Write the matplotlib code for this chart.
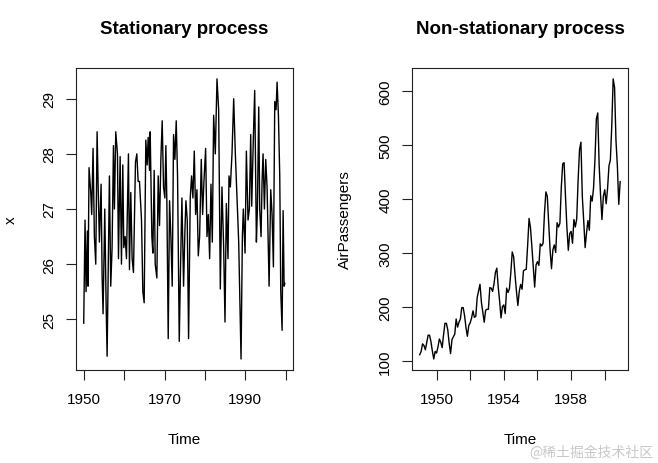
import matplotlib.pyplot as plt

plt.rcParams['font.family'] = ['Liberation Sans', 'DejaVu Sans']

# stationary series, values (time in years)
stat_time = [1950.00, 1950.33, 1950.58, 1950.91, 1951.07, 1951.32, 1951.74, 1951.98,
             1952.31, 1952.64, 1952.98, 1953.31, 1953.55, 1953.88, 1954.30, 1954.55,
             1954.79, 1955.21, 1955.54, 1955.79, 1956.12, 1956.36, 1956.69, 1957.02,
             1957.36, 1957.60, 1957.93, 1958.35, 1958.60, 1959.01, 1959.34, 1959.67,
             1959.92, 1960.25, 1960.58, 1961.07, 1961.32, 1961.65, 1961.98, 1962.31,
             1962.81, 1963.14, 1963.47, 1963.80, 1964.30, 1964.63, 1964.96, 1965.37,
             1965.70, 1965.95, 1966.28, 1966.45, 1966.86, 1967.11, 1967.44, 1967.69,
             1968.10, 1968.43, 1968.76, 1969.09, 1969.42, 1969.75, 1970.08, 1970.33,
             1970.58, 1970.91, 1971.24, 1971.57, 1971.90, 1972.23, 1972.56, 1972.89,
             1973.22, 1973.64, 1973.97, 1974.30, 1974.71, 1975.04, 1975.29, 1975.62,
             1975.95, 1976.36, 1976.69, 1977.02, 1977.36, 1977.69, 1978.02, 1978.35,
             1978.68, 1979.09, 1979.42, 1979.75, 1980.17, 1980.50, 1980.83, 1981.16,
             1981.49, 1981.82, 1982.15, 1982.56, 1982.98, 1983.39, 1983.80, 1984.21,
             1984.63, 1984.96, 1985.29, 1985.70, 1985.95, 1986.28, 1986.69, 1987.11,
             1987.52, 1987.93, 1988.35, 1988.68, 1988.93, 1989.26, 1989.50, 1989.92,
             1990.25, 1990.66, 1990.99, 1991.32, 1991.57, 1991.98, 1992.31, 1992.73,
             1992.98, 1993.31, 1993.55, 1993.88, 1994.13, 1994.38, 1994.71, 1995.04,
             1995.37, 1995.87, 1996.28, 1996.61, 1996.94, 1997.27, 1997.60, 1997.85,
             1998.18, 1998.51, 1998.76, 1999.09, 1999.34, 1999.59, 1999.75]
stat_x = [24.93, 26.80, 25.50, 26.60, 25.60, 27.75, 27.30, 26.90,
          28.10, 26.50, 26.00, 28.40, 27.50, 26.40, 27.45, 25.80,
          25.10, 27.00, 25.30, 24.33, 26.30, 27.60, 25.60, 26.30,
          28.15, 27.00, 28.40, 28.00, 26.10, 27.95, 26.00, 27.80,
          26.30, 26.50, 26.10, 28.00, 25.90, 27.30, 26.10, 25.85,
          27.85, 28.00, 27.50, 27.50, 26.80, 25.50, 25.30, 28.25,
          27.80, 28.30, 27.70, 28.40, 26.50, 26.20, 27.70, 26.00,
          25.75, 27.60, 26.70, 27.90, 28.60, 27.40, 27.20, 28.15,
          27.10, 24.65, 27.15, 26.50, 25.60, 28.35, 27.90, 28.60,
          27.60, 24.60, 26.00, 27.20, 25.60, 26.60, 27.15, 26.80,
          24.65, 27.20, 27.60, 27.20, 28.05, 26.90, 27.35, 26.15,
          26.50, 27.90, 26.90, 27.50, 28.10, 26.50, 26.90, 26.10,
          27.45, 26.40, 28.70, 28.00, 29.36, 28.80, 25.55, 27.40,
          26.30, 24.95, 27.10, 26.10, 27.60, 27.40, 28.00, 29.00,
          28.00, 27.20, 26.40, 25.20, 24.28, 26.50, 27.00, 26.20,
          28.05, 26.80, 27.00, 28.35, 27.05, 28.30, 29.15, 26.40,
          27.00, 28.85, 27.00, 26.50, 27.50, 28.00, 27.00, 27.90,
          27.40, 25.60, 27.35, 26.90, 25.95, 28.95, 28.80, 29.30,
          28.70, 27.60, 25.50, 24.80, 26.97, 25.60, 25.65]

# AirPassengers, monthly 1949-1960
air_years = list(range(1949, 1961))
air_passengers = [
    112, 118, 132, 129, 121, 135, 148, 148, 136, 119, 104, 118,
    115, 126, 141, 135, 125, 149, 170, 170, 158, 133, 114, 140,
    145, 150, 178, 163, 172, 178, 199, 199, 184, 162, 146, 166,
    171, 180, 193, 181, 183, 218, 230, 242, 209, 191, 172, 194,
    196, 196, 236, 235, 229, 243, 264, 272, 237, 211, 180, 201,
    204, 188, 235, 227, 234, 264, 302, 293, 259, 229, 203, 229,
    242, 233, 267, 269, 270, 315, 364, 347, 312, 274, 237, 278,
    284, 277, 317, 313, 318, 374, 413, 405, 355, 306, 271, 306,
    315, 301, 356, 348, 355, 422, 465, 467, 404, 347, 305, 336,
    340, 318, 362, 348, 363, 435, 491, 505, 404, 359, 310, 337,
    360, 342, 406, 396, 420, 472, 548, 559, 463, 407, 362, 405,
    417, 391, 419, 461, 472, 535, 622, 606, 508, 461, 390, 432,
]
air_time = [y + m / 12 for y in air_years for m in range(12)]


def r_style(ax, xticks, xlabels, yticks):
    ax.set_xticks(xticks)
    ax.set_xticklabels(xlabels)
    ax.set_yticks(yticks)
    ax.set_yticklabels([str(v) for v in yticks], rotation=90, va='center')
    ax.tick_params(direction='out', length=7, width=0.8, labelsize=11,
                   color='#222222', pad=7)
    ax.tick_params(axis='x', pad=9)
    for s in ax.spines.values():
        s.set_linewidth(0.8)
        s.set_color('#222222')


def pad(lo, hi):
    r = hi - lo
    return lo - 0.04 * r, hi + 0.04 * r


fig = plt.figure(figsize=(6.58, 4.64), dpi=100)
ax1 = fig.add_axes([0.115, 0.2, 0.33, 0.652])
ax2 = fig.add_axes([0.6257, 0.2, 0.329, 0.652])

ax1.plot(stat_time, stat_x, color='black', lw=1.0)
ax1.set_xlim(*pad(1950, 1999.75))
ax1.set_ylim(*pad(min(stat_x), max(stat_x)))
r_style(ax1, [1950, 1960, 1970, 1980, 1990, 2000],
        ['1950', '', '1970', '', '1990', ''], [25, 26, 27, 28, 29])
ax1.set_title('Stationary process', fontsize=13.5, fontweight='bold',
              y=1 + 38.7 / 302.6, va='center', pad=0)
ax1.set_ylabel('x', fontsize=11, va='center')
ax1.yaxis.set_label_coords(-64.7 / 217, 0.5)
ax1.set_xlabel('Time', fontsize=11, va='center')
ax1.xaxis.set_label_coords(0.5, -68.7 / 302.6)

ax2.plot(air_time, air_passengers, color='black', lw=1.0)
ax2.set_xlim(*pad(air_time[0], air_time[-1]))
ax2.set_ylim(*pad(min(air_passengers), max(air_passengers)))
r_style(ax2, [1950, 1952, 1954, 1956, 1958, 1960],
        ['1950', '', '1954', '', '1958', ''], [100, 200, 300, 400, 500, 600])
ax2.set_title('Non-stationary process', fontsize=13.5, fontweight='bold',
              y=1 + 38.7 / 302.6, va='center', pad=0)
ax2.set_ylabel('AirPassengers', fontsize=11, va='center')
ax2.yaxis.set_label_coords(-66.7 / 216.6, 0.5)
ax2.set_xlabel('Time', fontsize=11, va='center')
ax2.xaxis.set_label_coords(0.5, -68.7 / 302.6)

fig.text(0.993, 0.025, '@稀土掘金技术社区', ha='right', va='center', fontsize=10,
         color='#c8c8c8', family=['Noto Sans CJK SC', 'DejaVu Sans'])

fig.savefig('out.png', dpi=100)
